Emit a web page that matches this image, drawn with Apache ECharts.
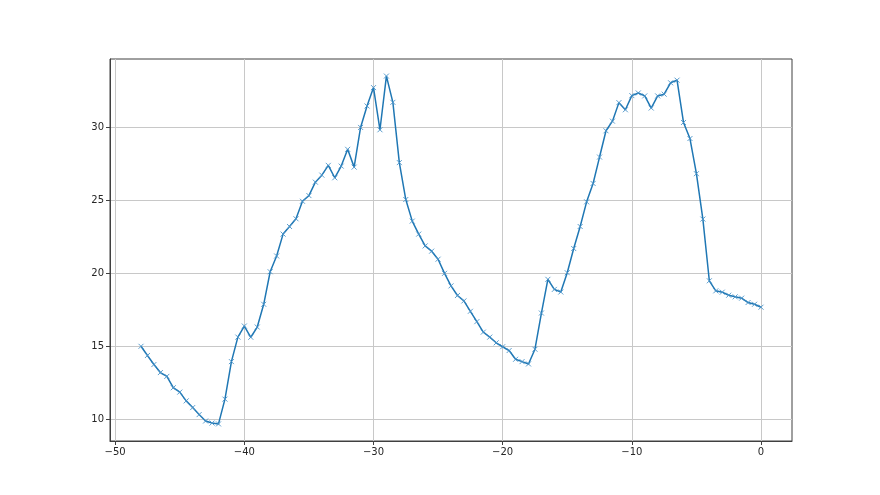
<!DOCTYPE html>
<html>
<head>
<meta charset="utf-8">
<script src="https://cdn.jsdelivr.net/npm/echarts@6/dist/echarts.min.js"></script>
<style>html,body{margin:0;padding:0;background:#fff}#c{width:880px;height:495px}</style>
</head>
<body>
<div id="c"></div>
<script>
const xValues = [-48,-47.5,-47,-46.5,-46,-45.5,-45,-44.5,-44,-43.5,-43,-42.5,-42,-41.5,-41,-40.5,-40,-39.5,-39,-38.5,-38,-37.5,-37,-36.5,-36,-35.5,-35,-34.5,-34,-33.5,-33,-32.5,-32,-31.5,-31,-30.5,-30,-29.5,-29,-28.5,-28,-27.5,-27,-26.5,-26,-25.5,-25,-24.5,-24,-23.5,-23,-22.5,-22,-21.5,-21,-20.5,-20,-19.5,-19,-18.5,-18,-17.5,-17,-16.5,-16,-15.5,-15,-14.5,-14,-13.5,-13,-12.5,-12,-11.5,-11,-10.5,-10,-9.5,-9,-8.5,-8,-7.5,-7,-6.5,-6,-5.5,-5,-4.5,-4,-3.5,-3,-2.5,-2,-1.5,-1,-0.5,0];
const yValues = [15.0,14.37,13.75,13.2,12.94,12.16,11.86,11.26,10.8,10.32,9.88,9.74,9.68,11.38,13.95,15.63,16.39,15.62,16.32,17.88,20.11,21.19,22.69,23.21,23.74,24.94,25.33,26.25,26.73,27.4,26.55,27.35,28.5,27.28,30.0,31.47,32.73,29.84,33.52,31.72,27.59,25.06,23.58,22.69,21.88,21.52,20.97,20.0,19.14,18.48,18.11,17.4,16.69,15.97,15.63,15.24,14.97,14.71,14.11,13.95,13.79,14.8,17.28,19.59,18.9,18.72,20.04,21.7,23.21,24.9,26.16,27.97,29.77,30.43,31.7,31.21,32.18,32.36,32.16,31.33,32.16,32.28,33.06,33.24,30.34,29.24,26.83,23.72,19.49,18.8,18.71,18.5,18.39,18.3,18.0,17.88,17.68];
const xTicks = [-50,-40,-30,-20,-10,0];
const yTicks = [10,15,20,25,30];

const chart = echarts.init(document.getElementById('c'), null, {renderer:'canvas'});
const labelStyle = {color:'#262626', fontSize:10, fontFamily:'DejaVu Sans'};
chart.setOption({
  animation:false,
  backgroundColor:'#fff',
  grid:{left:110, right:88, top:59, bottom:54, show:true, borderColor:'#404040', borderWidth:1, backgroundColor:'transparent'},
  xAxis:{
    type:'value', min:-50.4, max:2.4,
    axisLine:{show:true, onZero:false, lineStyle:{color:'#404040', width:1}},
    axisTick:{show:true, inside:false, length:4, lineStyle:{color:'#404040'}, customValues:xTicks},
    axisLabel:Object.assign({margin:6, customValues:xTicks, formatter:v=>String(v).replace('-','\u2212')}, labelStyle),
    splitLine:{show:true, lineStyle:{color:'#c8c8c8', width:1}}
  },
  yAxis:{
    type:'value', min:8.51, max:34.69,
    axisLine:{show:true, onZero:false, lineStyle:{color:'#404040', width:1}},
    axisTick:{show:true, inside:false, length:4, lineStyle:{color:'#404040'}, customValues:yTicks},
    axisLabel:Object.assign({margin:6, customValues:yTicks}, labelStyle),
    splitLine:{show:true, lineStyle:{color:'#c8c8c8', width:1}}
  },
  series:[{
    type:'line',
    data:xValues.map((x,i)=>[x,yValues[i]]),
    lineStyle:{color:'#1f77b4', width:1.5},
    symbol:'path://M0,0L10,10M10,0L0,10',
    symbolSize:5,
    showAllSymbol:true,
    itemStyle:{color:'#1f77b4', borderColor:'#4a93c8', borderWidth:0.9},
    emphasis:{disabled:true}
  }]
});
</script>
</body>
</html>
